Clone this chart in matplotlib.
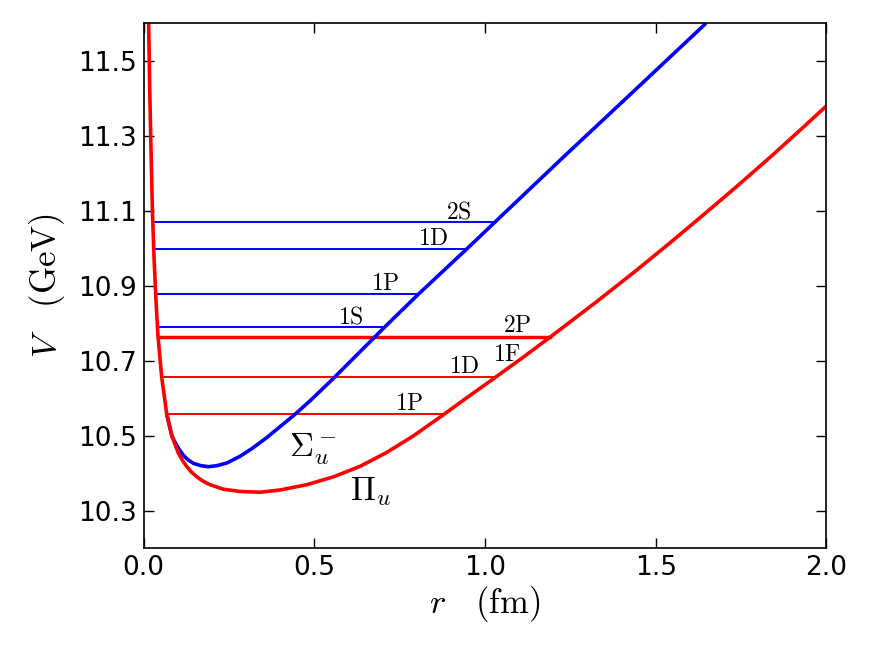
import numpy as np
import matplotlib
matplotlib.use('Agg')
import matplotlib.pyplot as plt

plt.rcParams['mathtext.fontset'] = 'cm'

# Potentiel hybride Pi_u (rouge)
r_pi = [0.015, 0.018, 0.021, 0.026, 0.031, 0.036, 0.042, 0.053, 0.068, 0.083,
        0.102, 0.114, 0.126, 0.140, 0.156, 0.175, 0.195, 0.234, 0.282, 0.341,
        0.400, 0.478, 0.556, 0.634, 0.712, 0.790, 0.868, 0.950, 1.036, 1.112,
        1.190, 1.327, 1.444, 1.542, 1.639, 1.737, 1.835, 1.932, 2.000]
v_pi = [11.60, 11.43, 11.30, 11.10, 10.97, 10.87, 10.77, 10.658, 10.558, 10.50,
        10.454, 10.435, 10.419, 10.404, 10.391, 10.379, 10.370, 10.358, 10.352, 10.350,
        10.356, 10.370, 10.391, 10.419, 10.456, 10.500, 10.550, 10.604, 10.660, 10.710,
        10.763, 10.858, 10.942, 11.015, 11.089, 11.165, 11.243, 11.323, 11.380]

# Potentiel hybride Sigma_u^- (bleu)
r_sig = [0.068, 0.083, 0.093, 0.104, 0.117, 0.131, 0.146, 0.167, 0.190, 0.216,
         0.244, 0.283, 0.320, 0.360, 0.400, 0.444, 0.488, 0.551, 0.707, 0.805,
         0.946, 1.029, 1.229, 1.439, 1.647]
v_sig = [10.558, 10.50, 10.482, 10.465, 10.448, 10.436, 10.427, 10.421, 10.418, 10.421,
         10.428, 10.446, 10.468, 10.495, 10.525, 10.558, 10.594, 10.649, 10.791, 10.878,
         10.998, 11.070, 11.243, 11.422, 11.60]

# Niveaux d'energie : nom, energie, debut, fin
sig_names = ['1S', '1P', '1D', '2S']
sig_levels = [10.791, 10.878, 10.998, 11.070]
sig_start = [0.046, 0.040, 0.036, 0.032]
sig_end = [0.707, 0.805, 0.946, 1.029]

pi_names = ['1P', '1D', '2P']
pi_levels = [10.558, 10.658, 10.763]
pi_start = [0.076, 0.058, 0.048]
pi_end = [0.878, 1.034, 1.190]

x_ticks = [0.0, 0.5, 1.0, 1.5, 2.0]
y_ticks = [10.3, 10.5, 10.7, 10.9, 11.1, 11.3, 11.5]

fig = plt.figure(figsize=(8.72, 6.55), dpi=100)
ax = fig.add_axes([0.1646, 0.1626, 0.7832, 0.8018])

# Niveaux (fins, sauf 2P/1F degeneres)
for v, a, b in zip(sig_levels, sig_start, sig_end):
    ax.plot([a, b], [v, v], color='b', lw=1.4)
for name, v, a, b in zip(pi_names, pi_levels, pi_start, pi_end):
    ax.plot([a, b], [v, v], color='r', lw=2.5 if name == '2P' else 1.4)

ax.plot(r_sig, v_sig, color='b', lw=2.6, solid_capstyle='butt', solid_joinstyle='round')
ax.plot(r_pi, v_pi, color='r', lw=2.6, solid_capstyle='butt', solid_joinstyle='round')

# Etiquettes des niveaux
lab_fs = 17
sig_lab_pos = [(0.606, 10.801), (0.709, 10.889), (0.848, 11.009), (0.922, 11.081)]
for name, (x, y) in zip(sig_names, sig_lab_pos):
    ax.text(x, y, r'$\mathrm{%s}$' % name, fontsize=lab_fs, ha='center', va='baseline')
pi_lab_pos = [(0.777, 10.569), (0.939, 10.669), (1.095, 10.778)]
for name, (x, y) in zip(pi_names, pi_lab_pos):
    ax.text(x, y, r'$\mathrm{%s}$' % name, fontsize=lab_fs, ha='center', va='baseline')
ax.text(1.066, 10.701, r'$\mathrm{1F}$', fontsize=lab_fs, ha='center', va='baseline')

ax.text(0.427, 10.445, r'$\Sigma_u^-$', fontsize=24, ha='left', va='baseline')
ax.text(0.605, 10.329, r'$\Pi_u$', fontsize=24, ha='left', va='baseline')

ax.set_xlim(0.0, 2.0)
ax.set_ylim(10.2, 11.6)
ax.set_xticks(x_ticks)
ax.set_yticks(y_ticks)
ax.set_xticklabels(['%.1f' % t for t in x_ticks])
ax.set_yticklabels(['%.1f' % t for t in y_ticks])
ax.tick_params(direction='in', length=7, width=1, top=True, right=True,
               labelsize=19, pad=5)
for s in ax.spines.values():
    s.set_linewidth(1.2)

ax.set_xlabel(r'$r\ \ \ (\mathrm{fm})$', fontsize=25, labelpad=2)
ax.set_ylabel(r'$V\ \ \ (\mathrm{GeV})$', fontsize=25, labelpad=8)

fig.savefig('out.png', dpi=100)
